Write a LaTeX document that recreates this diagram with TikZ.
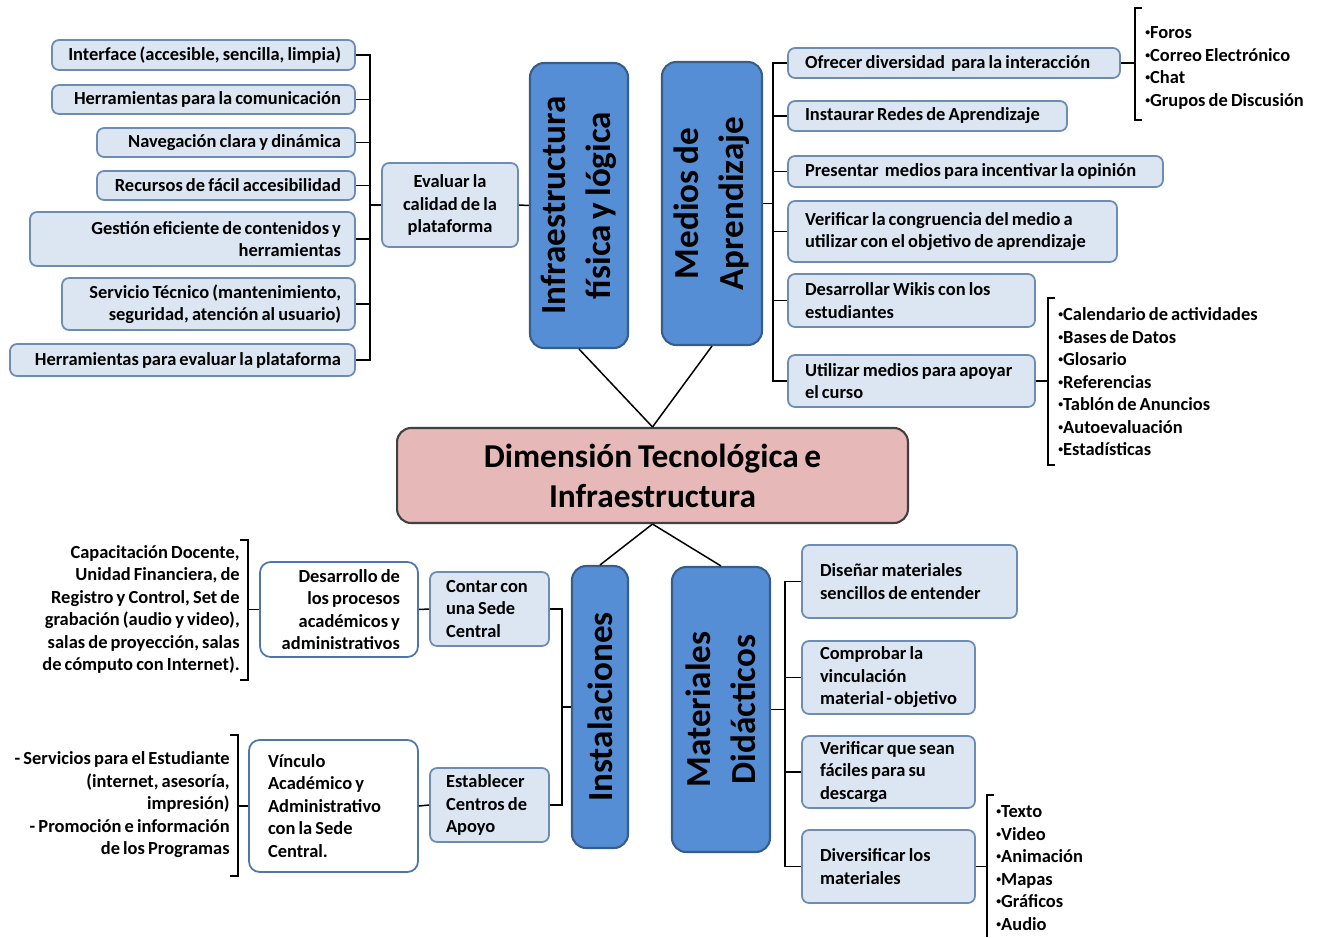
\documentclass[tikz,border=0pt]{standalone}
\usepackage{fontspec}
\setmainfont{Carlito}[WordSpace=0.75]
\definecolor{bluefill}{RGB}{85,142,213}
\definecolor{blueedge}{RGB}{56,93,138}
\definecolor{lightfill}{RGB}{220,230,242}
\definecolor{lightedge}{RGB}{108,140,180}
\definecolor{whiteedge}{RGB}{79,117,170}
\definecolor{pinkfill}{RGB}{230,185,184}
\newcommand\bul{\raisebox{0.35ex}{\fontsize{5.5}{5.5}\selectfont•}}
\tikzset{
  small/.style={font=\bfseries\fontsize{10.5}{12.8}\selectfont},
  lightbox/.style={small, draw=lightedge, fill=lightfill, line width=1pt, rounded corners=4pt, inner sep=0pt},
  whitebox/.style={small, draw=whiteedge, fill=white, line width=1pt, rounded corners=6pt, inner sep=0pt},
  bigbox/.style={draw=blueedge, fill=bluefill, line width=1.2pt, rounded corners=8pt, inner sep=0pt,
    rotate=90, align=center, font=\bfseries\fontsize{20}{25.5}\selectfont},
  mainbox/.style={draw=black!75, fill=pinkfill, line width=1.2pt, rounded corners=8pt, inner sep=0pt,
    align=center, font=\bfseries\fontsize{19}{22.7}\selectfont},
  listtext/.style={small, inner sep=0pt},
  link/.style={line width=0.85pt, black}
}
\begin{document}
\hyphenpenalty=10000
\exhyphenpenalty=10000
\begin{tikzpicture}[x=0.02cm, y=-0.02cm]
  \useasboundingbox (0,0) rectangle (1322,937);

  % centre
  \node[mainbox, minimum width=10.22cm, minimum height=1.9cm] (central) at (652.5,475.5) {Dimensión Tecnológica e\\Infraestructura};

  % infraestructura fisica y logica
  \node[bigbox, minimum width=5.7cm, minimum height=1.96cm] (infra) at (579,205.5) {Infraestructura\\física y lógica};
  \node[lightbox, minimum width=2.72cm, minimum height=1.68cm, align=center] (evaluar) at (450,205) {Evaluar la\\calidad de la\\plataforma};
  \node[lightbox, minimum width=6.06cm, minimum height=0.6cm, text width=5.5cm, align=flush right] (l1) at (203.5,55) {Interface (accesible, sencilla, limpia)};
  \node[lightbox, minimum width=6.06cm, minimum height=0.58cm, text width=5.5cm, align=flush right] (l2) at (203.5,99.5) {Herramientas para la comunicación};
  \node[lightbox, minimum width=5.16cm, minimum height=0.58cm, text width=4.6cm, align=flush right] (l3) at (226,142.5) {Navegación clara y dinámica};
  \node[lightbox, minimum width=5.16cm, minimum height=0.58cm, text width=4.6cm, align=flush right] (l4) at (226,185.5) {Recursos de fácil accesibilidad};
  \node[lightbox, minimum width=6.5cm, minimum height=1.08cm, text width=5.94cm, align=flush right] (l5) at (192.5,239) {Gestión eficiente de contenidos y\\herramientas};
  \node[lightbox, minimum width=5.86cm, minimum height=1.04cm, text width=5.3cm, align=flush right] (l6) at (208.5,304) {Servicio Técnico (mantenimiento,\\seguridad, atención al usuario)};
  \node[lightbox, minimum width=6.9cm, minimum height=0.64cm, text width=6.34cm, align=flush right] (l7) at (182.5,360) {Herramientas para evaluar la plataforma};
  \coordinate (lspine) at (370,205);
  \draw[link] (infra.north) -- (evaluar.east);
  \draw[link] (evaluar.west) -- (lspine);
  \foreach \n in {l1,l2,l3,l4,l5,l6,l7}
    \draw[link] (\n.east) -| (lspine);

  % medios de aprendizaje
  \node[bigbox, minimum width=5.66cm, minimum height=2cm] (medios) at (712,203.5) {Medios de\\Aprendizaje};
  \node[lightbox, minimum width=6.64cm, minimum height=0.6cm, text width=5.96cm, align=flush left] (r1) at (954,63) {Ofrecer diversidad\ \ para la interacción};
  \node[lightbox, minimum width=5.58cm, minimum height=0.6cm, text width=4.9cm, align=flush left] (r2) at (927.5,116) {Instaurar Redes de Aprendizaje};
  \node[lightbox, minimum width=7.5cm, minimum height=0.62cm, text width=6.82cm, align=flush left] (r3) at (975.5,171.5) {Presentar\ \ medios para incentivar la opinión};
  \node[lightbox, minimum width=6.58cm, minimum height=1.22cm, text width=5.9cm, align=flush left] (r4) at (952.5,231.5) {Verificar la congruencia del medio a\\utilizar con el objetivo de aprendizaje};
  \node[lightbox, minimum width=4.94cm, minimum height=1.06cm, text width=4.26cm, align=flush left] (r5) at (911.5,300.5) {Desarrollar Wikis con los\\estudiantes};
  \node[lightbox, minimum width=4.94cm, minimum height=1.04cm, text width=4.26cm, align=flush left] (r6) at (911.5,381) {Utilizar medios para apoyar\\el curso};
  \coordinate (mspine) at (773,203.5);
  \draw[link] (medios.south) -- (mspine);
  \foreach \n in {r1,r2,r3,r4,r5,r6}
    \draw[link] (\n.west) -| (mspine);

  \node[listtext, anchor=west, align=left] (foros) at (1145,68) {\bul Foros\\\bul Correo Electrónico\\\bul Chat\\\bul Grupos de Discusión};
  \coordinate (fbrace) at (1135,63);
  \draw[link] (1142,8) -- (1135,8) -- (1135,120) -- (1142,120);
  \draw[link] (r1.east) -- (fbrace);

  \node[listtext, anchor=west, align=left] (recursos) at (1058,382) {\bul Calendario de actividades\\\bul Bases de Datos\\\bul Glosario\\\bul Referencias\\\bul Tablón de Anuncios\\\bul Autoevaluación\\\bul Estadísticas};
  \coordinate (rbrace) at (1048,381);
  \draw[link] (1055,298) -- (1048,298) -- (1048,465) -- (1055,465);
  \draw[link] (r6.east) -- (rbrace);

  \draw[link] (central.north) -- (infra.west);
  \draw[link] (central.north) -- (medios.west);

  % instalaciones
  \node[bigbox, minimum width=5.64cm, minimum height=1.12cm] (instal) at (600,707) {Instalaciones};
  \node[lightbox, minimum width=2.38cm, minimum height=1.48cm, text width=1.74cm, align=flush left] (contar) at (489.5,609) {Contar con\\una Sede\\Central};
  \node[lightbox, minimum width=2.38cm, minimum height=1.48cm, text width=1.74cm, align=flush left] (establecer) at (489.5,805) {Establecer\\Centros de\\Apoyo};
  \coordinate (ispine) at (562,707);
  \draw[link] (instal.north) -- (ispine);
  \draw[link] (contar.east) -| (ispine);
  \draw[link] (establecer.east) -| (ispine);

  \node[whitebox, minimum width=3.16cm, minimum height=1.9cm, text width=2.44cm, align=flush right] (desarrollo) at (339,609.5) {Desarrollo de\\los procesos\\académicos y\\administrativos};
  \node[whitebox, minimum width=3.38cm, minimum height=2.64cm, text width=2.62cm, align=flush left] (vinculo) at (333.5,806) {Vínculo\\Académico y\\Administrativo\\con la Sede\\Central.};
  \draw[link] (desarrollo.east) -- (contar.west);
  \draw[link] (vinculo.east) -- (establecer.west);

  \node[listtext, anchor=east, align=right] (salas) at (240,609.5) {Capacitación Docente,\\Unidad Financiera, de\\Registro y Control, Set de\\grabación (audio y video),\\salas de proyección, salas\\de cómputo con Internet).};
  \coordinate (sbrace) at (248,609.5);
  \draw[link] (240,540) -- (248,540) -- (248,680) -- (240,680);
  \draw[link] (sbrace) -- (desarrollo.west);

  \node[listtext, anchor=east, align=right] (servicios) at (230,805) {- Servicios para el Estudiante\\(internet, asesoría,\\impresión)\\- Promoción e información\\de los Programas};
  \coordinate (vbrace) at (238,806);
  \draw[link] (230,735) -- (238,735) -- (238,876) -- (230,876);
  \draw[link] (vbrace) -- (vinculo.west);

  % materiales didacticos
  \node[bigbox, minimum width=5.7cm, minimum height=1.96cm] (mat) at (721,709.5) {Materiales\\Didácticos};
  \node[lightbox, minimum width=4.3cm, minimum height=1.46cm, text width=3.58cm, align=flush left] (m1) at (909.5,581.5) {Diseñar materiales\\sencillos de entender};
  \node[lightbox, minimum width=3.46cm, minimum height=1.46cm, text width=2.74cm, align=flush left] (m2) at (888.5,677.5) {Comprobar la\\vinculación\\material~-~objetivo};
  \node[lightbox, minimum width=3.46cm, minimum height=1.44cm, text width=2.74cm, align=flush left] (m3) at (888.5,772) {Verificar que sean\\fáciles para su\\descarga};
  \node[lightbox, minimum width=3.46cm, minimum height=1.46cm, text width=2.74cm, align=flush left] (m4) at (888.5,866.5) {Diversificar los\\materiales};
  \coordinate (dspine) at (785,709.5);
  \draw[link] (mat.south) -- (dspine);
  \foreach \n in {m1,m2,m3,m4}
    \draw[link] (\n.west) -| (dspine);

  \node[listtext, anchor=west, align=left] (formatos) at (996,868) {\bul Texto\\\bul Video\\\bul Animación\\\bul Mapas\\\bul Gráficos\\\bul Audio};
  \coordinate (mbrace) at (987,866.5);
  \draw[link] (994,795) -- (987,795) -- (987,937);
  \draw[link] (m4.east) -- (mbrace);

  \draw[link] (central.south) -- (instal.east);
  \draw[link] (central.south) -- (mat.east);
\end{tikzpicture}
\end{document}
